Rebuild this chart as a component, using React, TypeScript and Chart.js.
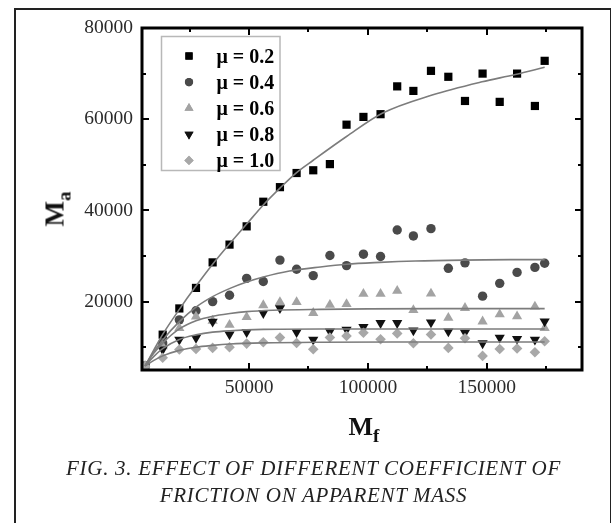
import React, { useEffect, useRef } from 'react';
import { Chart, registerables } from 'chart.js';
import { drawPoint } from 'chart.js/helpers';

Chart.register(...registerables);

// ---- data ----
const MF = [6300, 13700, 20700, 27700, 34700, 41800, 49000, 56000, 63000, 70000, 77000, 84000, 91000, 98100, 105300, 112300, 119100, 126500, 133800, 140800, 148200, 155400, 162700, 170200, 174300];

const MU02 = [5900, 12750, 18500, 23000, 28600, 32500, 36500, 41900, 45100, 48200, 48800, 50150, 58800, 60500, 61100, 67200, 66200, 70600, 69300, 64000, 70000, 63800, 70000, 62900, 72800];
const MU04 = [5900, 10900, 16000, 18000, 20000, 21400, 25100, 24400, 29100, 27100, 25700, 30100, 27900, 30400, 29900, 35700, 34400, 36000, 27300, 28500, 21200, 24000, 26400, 27500, 28400];
const MU06 = [5900, 10200, 14200, 16700, 15800, 14900, 16600, 19200, 19900, 19900, 17500, 19300, 19450, 21700, 21700, 22350, 18150, 21750, 16450, 18600, 15650, 17200, 16750, 18900, 14200];
const MU08 = [5900, 9500, 11660, 12030, 15600, 12800, 13300, 17490, 18580, 13300, 11660, 13460, 13840, 14430, 15300, 15300, 13690, 15440, 13460, 13180, 10870, 12100, 11810, 11660, 15650];
const MU10 = [5800, 7700, 9480, 9630, 9850, 10000, 10790, 11080, 12100, 10930, 9550, 12140, 12450, 13170, 11730, 13030, 10860, 12800, 9850, 11950, 8090, 9600, 9700, 8890, 11290];

// fitted curves
const FIT02_X = [6300, 10000, 13700, 20700, 27700, 34700, 42000, 49000, 56000, 63000, 70000, 77000, 91000, 106000, 127000, 148000, 162000, 174300];
const FIT02_Y = [5900, 9400, 12800, 18300, 23400, 28200, 32800, 37000, 41200, 44900, 48300, 51000, 56200, 61300, 65300, 68200, 69800, 71400];
const FIT04_X = [6300, 10000, 13700, 20700, 27700, 34700, 42000, 49000, 56000, 67000, 80000, 91000, 105000, 120000, 140000, 160000, 174300];
const FIT04_Y = [5900, 9000, 11600, 15600, 18800, 21100, 22900, 24300, 25400, 26700, 27600, 28200, 28600, 28900, 29100, 29200, 29200];
const FIT06_X = [6300, 10000, 13700, 20700, 27700, 34700, 42000, 49000, 60000, 80000, 100000, 130000, 174300];
const FIT06_Y = [5900, 8700, 10900, 14000, 15800, 16800, 17400, 17800, 18100, 18300, 18400, 18450, 18450];
const FIT08_X = [6300, 10000, 13700, 20700, 27700, 34700, 42000, 56000, 80000, 120000, 174300];
const FIT08_Y = [5900, 8000, 9700, 11700, 12700, 13300, 13600, 13900, 14000, 14000, 14000];
const FIT10_X = [6300, 10000, 13700, 20700, 27700, 34700, 42000, 56000, 80000, 120000, 174300];
const FIT10_Y = [5900, 7100, 8100, 9300, 10000, 10400, 10700, 10950, 11100, 11150, 11150];

const LABELS = ['μ = 0.2', 'μ = 0.4', 'μ = 0.6', 'μ = 0.8', 'μ = 1.0'];

const X_MAJOR = [50000, 100000, 150000];
const X_MINOR = [25000, 75000, 125000, 175000];
const Y_MAJOR = [20000, 40000, 60000, 80000];
const Y_MINOR = [10000, 30000, 50000, 70000];

// ---- styles ----
const SERIF = "'Liberation Serif', 'Times New Roman', Times, serif";
const STYLES = [
  { pointStyle: 'rect', color: '#000000', radius: 5.8, rotation: 0 },
  { pointStyle: 'circle', color: '#4a4a4a', radius: 4.7, rotation: 0 },
  { pointStyle: 'triangle', color: '#a3a3a3', radius: 5.9, rotation: 0 },
  { pointStyle: 'triangle', color: '#111111', radius: 5.9, rotation: 180 },
  { pointStyle: 'rectRot', color: '#a8a8a8', radius: 5.3, rotation: 0 },
];
const FIT_COLOR = '#7c7c7c';

const toPts = (xs: number[], ys: number[]) => xs.map((x, i) => ({ x, y: ys[i] }));

const decorPlugin = {
  id: 'decor',
  afterDraw(chart: any) {
    const ctx = chart.ctx as CanvasRenderingContext2D;
    const { left, right, top, bottom } = chart.chartArea;
    const xs = chart.scales.x;
    const ys = chart.scales.y;
    ctx.save();
    // ticks (inward, all four sides)
    ctx.strokeStyle = '#000';
    ctx.lineWidth = 2;
    const xt = (vals: number[], len: number) => {
      vals.forEach((v) => {
        const p = Math.round(xs.getPixelForValue(v));
        ctx.beginPath();
        ctx.moveTo(p, bottom);
        ctx.lineTo(p, bottom - len);
        ctx.moveTo(p, top);
        ctx.lineTo(p, top + len);
        ctx.stroke();
      });
    };
    const yt = (vals: number[], len: number) => {
      vals.forEach((v) => {
        const p = Math.round(ys.getPixelForValue(v));
        ctx.beginPath();
        ctx.moveTo(left, p);
        ctx.lineTo(left + len, p);
        ctx.moveTo(right, p);
        ctx.lineTo(right - len, p);
        ctx.stroke();
      });
    };
    xt(X_MAJOR, 7);
    xt(X_MINOR, 4);
    yt(Y_MAJOR, 7);
    yt(Y_MINOR, 4);
    // axis box
    ctx.lineWidth = 3;
    ctx.strokeRect(left, top, right - left, bottom - top);

    // legend
    const lx = 161.5, ly = 36.5, lw = 118.5, lh = 134;
    ctx.fillStyle = '#fff';
    ctx.fillRect(lx, ly, lw, lh);
    ctx.strokeStyle = '#b8b8b8';
    ctx.lineWidth = 1.5;
    ctx.strokeRect(lx, ly, lw, lh);
    LABELS.forEach((lab, i) => {
      const cy = 56 + i * 26.1;
      const st = STYLES[i];
      ctx.fillStyle = st.color;
      ctx.strokeStyle = st.color;
      drawPoint(ctx, {
        pointStyle: st.pointStyle as any,
        radius: st.radius * 0.88,
        rotation: st.rotation,
        borderWidth: 0,
      } as any, 189, cy);
      ctx.fill();
      ctx.fillStyle = '#000';
      ctx.font = `bold 20px ${SERIF}`;
      ctx.textAlign = 'left';
      ctx.textBaseline = 'alphabetic';
      ctx.fillText(lab, 216.5, cy + 6.8);
    });
    ctx.restore();
  },
};

export default function App() {
  const ref = useRef<HTMLCanvasElement | null>(null);

  useEffect(() => {
    if (!ref.current) return;
    const seriesValues = [MU02, MU04, MU06, MU08, MU10];
    const fits = [
      toPts(FIT02_X, FIT02_Y),
      toPts(FIT04_X, FIT04_Y),
      toPts(FIT06_X, FIT06_Y),
      toPts(FIT08_X, FIT08_Y),
      toPts(FIT10_X, FIT10_Y),
    ];
    const lineSets = fits.map((d, i) => ({
      label: 'fit ' + LABELS[i],
      data: d,
      showLine: true,
      borderColor: FIT_COLOR,
      borderWidth: 1.6,
      pointRadius: 0,
      fill: false,
      cubicInterpolationMode: 'monotone' as const,
      order: 0,
    }));
    const pointSets = seriesValues.map((vals, i) => ({
      label: LABELS[i],
      data: toPts(MF, vals),
      showLine: false,
      pointStyle: STYLES[i].pointStyle,
      pointRadius: STYLES[i].radius,
      pointRotation: STYLES[i].rotation,
      backgroundColor: STYLES[i].color,
      borderColor: STYLES[i].color,
      pointBorderWidth: 0,
      order: 1 + (4 - i),
    }));

    const tickFont = { family: SERIF, size: 19.5 };
    const chart = new Chart(ref.current, {
      type: 'scatter',
      data: { datasets: [...lineSets, ...pointSets] as any },
      options: {
        animation: false,
        responsive: false,
        devicePixelRatio: 1,
        layout: { padding: { left: 0, right: 29, top: 28, bottom: 0 } },
        plugins: { legend: { display: false }, tooltip: { enabled: false } },
        scales: {
          x: {
            type: 'linear',
            min: 5000,
            max: 190000,
            grid: { display: false, drawTicks: false },
            border: { display: false },
            afterBuildTicks: (s: any) => {
              s.ticks = X_MAJOR.map((v) => ({ value: v }));
            },
            afterFit: (s: any) => {
              s.height = 153;
            },
            ticks: {
              padding: 6,
              font: tickFont,
              color: '#2a2a2a',
              maxRotation: 0,
              autoSkip: false,
              callback: (v: any) => String(v),
            },
          },
          y: {
            type: 'linear',
            min: 5000,
            max: 80000,
            grid: { display: false, drawTicks: false },
            border: { display: false },
            afterBuildTicks: (s: any) => {
              s.ticks = Y_MAJOR.map((v) => ({ value: v }));
            },
            afterFit: (s: any) => {
              s.width = 142;
            },
            ticks: {
              padding: 9,
              font: tickFont,
              color: '#2a2a2a',
              autoSkip: false,
              callback: (v: any) => String(v),
            },
          },
        },
      } as any,
      plugins: [decorPlugin],
    });
    return () => chart.destroy();
  }, []);

  return (
    <div
      style={{
        position: 'absolute',
        left: 0,
        top: 0,
        width: 611,
        height: 523,
        background: '#fff',
        overflow: 'hidden',
        fontFamily: SERIF,
      }}
    >
      {/* figure frame */}
      <div
        style={{
          position: 'absolute',
          left: 14,
          top: 8,
          width: 594,
          height: 530,
          borderLeft: '2px solid #222',
          borderTop: '2px solid #222',
          borderRight: '2px solid #222',
        }}
      />
      <canvas ref={ref} width={611} height={523} style={{ position: 'absolute', left: 0, top: 0, width: 611, height: 523 }} />
      {/* y axis title */}
      <div
        style={{
          position: 'absolute',
          left: 56,
          top: 209,
          transform: 'translate(-50%, -50%) rotate(-90deg)',
          fontWeight: 'bold',
          fontSize: 27,
          lineHeight: '27px',
          whiteSpace: 'nowrap',
          color: '#111',
        }}
      >
        M<span style={{ fontSize: 19, position: 'relative', top: 7 }}>a</span>
      </div>
      {/* x axis title */}
      <div
        style={{
          position: 'absolute',
          left: 364,
          top: 414,
          transform: 'translateX(-50%)',
          fontWeight: 'bold',
          fontSize: 26,
          lineHeight: '26px',
          whiteSpace: 'nowrap',
          color: '#111',
        }}
      >
        M<span style={{ fontSize: 19, position: 'relative', top: 7 }}>f</span>
      </div>
      {/* caption */}
      <div
        style={{
          position: 'absolute',
          left: 0,
          top: 455,
          width: 627,
          textAlign: 'center',
          fontStyle: 'italic',
          fontSize: 21,
          lineHeight: '27px',
          letterSpacing: '0.7px',
          color: '#222',
        }}
      >
        <div>FIG. 3. EFFECT OF DIFFERENT COEFFICIENT OF</div>
        <div>FRICTION ON APPARENT MASS</div>
      </div>
    </div>
  );
}
